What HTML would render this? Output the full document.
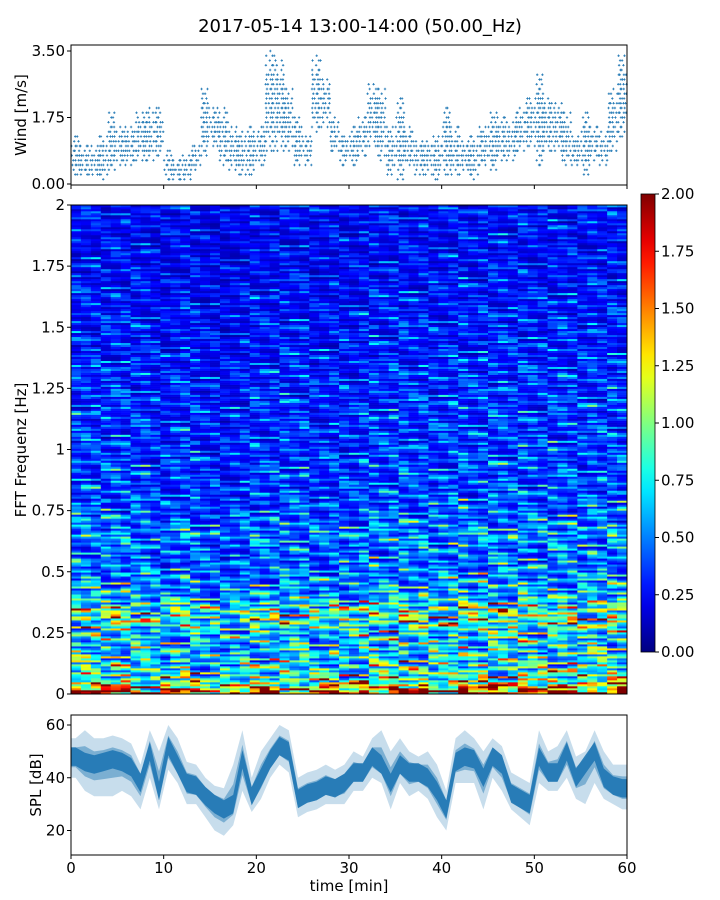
<!DOCTYPE html>
<html><head><meta charset="utf-8"><style>
html,body{margin:0;padding:0;background:#fff;}
svg{display:block;font-family:"DejaVu Sans","Liberation Sans",sans-serif;}
</style></head><body>
<svg id="fig" width="720" height="900" viewBox="0 0 720 900" xmlns="http://www.w3.org/2000/svg">
<rect width="720" height="900" fill="#fff"/>
<text x="360" y="32" text-anchor="middle" font-size="18">2017-05-14 13:00-14:00 (50.00_Hz)</text>
<g id="wind"></g>
<g id="spec"></g>
<g id="cbar"></g>
<g id="spl"></g>
<text x="349" y="891" text-anchor="middle" font-size="15">time [min]</text>
<text transform="translate(26,115) rotate(-90)" text-anchor="middle" font-size="15">Wind [m/s]</text>
<text transform="translate(26,450) rotate(-90)" text-anchor="middle" font-size="15">FFT Frequenz [Hz]</text>
<text transform="translate(41,785) rotate(-90)" text-anchor="middle" font-size="15">SPL [dB]</text>
</svg>
<script>
// ---- data ----
const windLow  = [0.2,0.2,0.2,0.1,0.3,0.5,0.4,0.6,0.6,0.7,0.1,0.1,0.1,0.3,0.7,0.9,0.4,0.3,0.2,0.2,0.4,0.8,0.8,0.8,0.4,0.5,1.3,1.5,0.8,0.5,0.5,0.7,1.0,0.6,0.2,0.1,0.4,0.2,0.2,0.1,0.2,0.2,0.3,0.1,0.4,0.3,0.6,0.6,0.8,0.9,0.4,0.8,0.8,0.4,0.4,0.2,0.6,0.5,0.8,1.2];
const windHigh = [1.3,1.0,1.0,1.3,1.9,1.5,1.6,1.9,2.0,2.0,0.9,0.7,0.8,1.1,2.5,2.1,2.0,1.5,1.4,1.6,1.6,3.5,3.3,2.6,1.8,1.3,3.4,2.8,1.8,1.3,1.5,1.8,2.7,2.5,1.5,2.3,1.5,1.2,1.2,1.3,2.0,1.5,1.2,1.3,1.5,1.9,1.8,1.7,2.0,2.3,2.9,2.3,2.2,1.9,1.3,1.9,1.5,1.4,2.6,3.4];
const splCenter = [48,46,45,46,47,46,44,38,50,35,52,45,38,37,33,30,28,30,47,33,40,47,52,50,32,34,35,37,36,38,42,42,48,45,38,45,42,42,40,35,28,46,48,47,40,48,45,34,32,30,48,42,42,50,40,45,50,40,37,36];
const splLow  = [40,35,33,33,33,35,33,28,40,28,43,38,30,30,25,20,18,22,35,27,32,40,45,42,25,27,28,30,30,30,35,35,40,38,28,38,33,35,32,25,20,38,38,38,28,40,35,28,25,22,38,35,35,40,32,30,38,32,30,28];
const splHigh = [55,58,55,55,56,55,53,45,58,50,60,55,46,45,40,37,36,45,58,40,50,55,60,58,40,42,43,45,43,45,50,48,55,58,50,55,50,48,50,45,35,55,58,55,50,55,52,42,40,38,58,50,52,58,48,50,58,50,45,45];
const freqProfile = [2.0,1.0,0.8,0.72,0.68,0.7,0.95,0.9,0.6,0.55,0.5,0.46,0.46,0.55,0.46,0.42,0.4,0.38,0.38,0.38,0.36,0.35,0.35,0.34,0.34,0.33,0.33,0.32,0.3,0.3,0.3,0.3,0.28,0.28,0.27,0.26,0.26,0.25,0.26,0.27,0.28];
const colFactor = [1.05,1.05,1.0,1.0,1.05,1.0,1.0,1.0,0.9,0.85,0.95,1.0,0.95,0.85,0.85,0.8,0.85,0.9,1.0,0.95,0.95,1.0,1.0,1.0,0.9,0.9,0.95,0.95,0.9,1.0,1.05,1.0,1.05,1.1,1.0,1.05,1.0,1.0,1.05,1.1,1.0,1.05,1.1,1.1,1.05,1.1,1.05,1.0,1.05,1.1,1.05,1.0,1.1,1.05,1.1,1.05];
const rowNoise = [1.0,0.6,1.4,0.8,0.5,1.2,1.7,0.7,0.9,1.3,0.6,1.1,0.4,1.5,0.9,0.7,1.2,1.9,0.8,0.5,1.0,1.3,0.6,1.1,0.9,1.6,0.7,0.5,1.2,1.0,0.8,1.4,0.6,1.1,1.8,0.7,0.9];
const cellNoise = [1.0,0.8,1.2,0.9,1.3,0.7,1.1,1.0,0.6,1.4,0.9,1.2,0.8,1.0,1.5,0.7,1.1,0.9,1.3,0.8,1.0,1.2,0.75];
const windTicks = [0,1.75,3.5], windTickLabels = ["0.00","1.75","3.50"];
const freqTicks = [0,0.25,0.5,0.75,1,1.25,1.5,1.75,2], freqTickLabels = ["0","0.25","0.5","0.75","1","1.25","1.5","1.75","2"];
const cbTicks = [0,0.25,0.5,0.75,1,1.25,1.5,1.75,2], cbTickLabels = ["0.00","0.25","0.50","0.75","1.00","1.25","1.50","1.75","2.00"];
const splTicks = [20,40,60], splTickLabels = ["20","40","60"];
const timeTicks = [0,10,20,30,40,50,60], timeTickLabels = ["0","10","20","30","40","50","60"];

const NS="http://www.w3.org/2000/svg";
function mk(tag,attrs,parent){const e=document.createElementNS(NS,tag);for(const k in attrs)e.setAttribute(k,attrs[k]);parent.appendChild(e);return e;}
const X0=71,X1=627;
const xT=t=>X0+(t/60)*(X1-X0);
const yW=v=>184-(v/3.5)*(184-51);
const yF=f=>694-(f/2)*(694-205);
const yS=d=>725+(60-d)*(830.5-725)/40;
const yC=v=>652-(v/2)*(652-194);
function jet(v){v=Math.max(0,Math.min(1,v));
 const r=Math.max(0,Math.min(1,1.5-Math.abs(4*v-3))),g=Math.max(0,Math.min(1,1.5-Math.abs(4*v-2))),b=Math.max(0,Math.min(1,1.5-Math.abs(4*v-1)));
 return `rgb(${Math.round(r*255)},${Math.round(g*255)},${Math.round(b*255)})`;}

// ---- wind ----
const wg=document.getElementById('wind');
let pts="";
const jit=[0.03,0.11,0.07,0.15,0.01,0.09,0.13,0.05];
for(let m=0;m<60;m++){
 for(let s=0;s<5;s++){
  const lo=windLow[m],hi=windHigh[m];
  let k=0;
  for(let q=Math.ceil(lo/0.125)*0.125;q<=hi+1e-6;q+=0.125){
   k++;
   const mid=(lo+hi)/2, edge=Math.abs(q-mid)/((hi-lo)/2+0.01);
   const h=(m*13+s*7+k*5)%10;
   if(h < (edge>0.6?6:3)) continue;
   const t=m+s/5+jit[(m+s*3+k)%jit.length];
   const x=xT(t),y=yW(q);
   pts+=`M${(x-1.2).toFixed(1)},${y.toFixed(1)}h2.4M${x.toFixed(1)},${(y-1.2).toFixed(1)}v2.4`;
  }
 }
}
const wp=mk('path',{d:pts,stroke:'#1f77b4','stroke-width':0.8,fill:'none'},wg);


const wb=mk('rect',{x:X0,y:45,width:X1-X0,height:140,fill:'none',stroke:'#000','stroke-width':1},wg);


windTicks.forEach((v,i)=>{mk('line',{x1:X0-4,x2:X0,y1:yW(v),y2:yW(v),stroke:'#000'},wg);
 const tx=mk('text',{x:X0-6,y:yW(v)+5,'text-anchor':'end','font-size':15},wg);tx.textContent=windTickLabels[i];
 
 });
timeTicks.forEach(t=>mk('line',{x1:xT(t),x2:xT(t),y1:185,y2:189,stroke:'#000'},wg));

// ---- spectrogram ----
const sg=document.getElementById('spec');
const NR=245,NC=colFactor.length;
const rh=(694-205)/NR,cw=(X1-X0)/NC;
let frag=document.createDocumentFragment();
for(let r=0;r<NR;r++){
 const f=(r+0.5)*2/NR, fi=f/0.05, i0=Math.floor(fi), a=fi-i0;
 const base=freqProfile[i0]*(1-a)+freqProfile[Math.min(i0+1,freqProfile.length-1)]*a;
 for(let c=0;c<NC;c++){
  let v=base*colFactor[c]*rowNoise[(r*5+Math.floor(c/3))%rowNoise.length]*cellNoise[(r*7+c*3)%cellNoise.length];
  const rc=document.createElementNS(NS,'rect');
  rc.setAttribute('x',(X0+c*cw).toFixed(2));rc.setAttribute('y',(694-(r+1)*rh).toFixed(2));
  rc.setAttribute('width',(cw+0.4).toFixed(2));rc.setAttribute('height',(rh+0.3).toFixed(2));
  rc.setAttribute('fill',jet(v/2));
  frag.appendChild(rc);
 }
}
sg.appendChild(frag);
const sb=mk('rect',{x:X0,y:205,width:X1-X0,height:489,fill:'none',stroke:'#000','stroke-width':1},sg);


freqTicks.forEach((v,i)=>{mk('line',{x1:X0-4,x2:X0,y1:yF(v),y2:yF(v),stroke:'#000'},sg);
 const tx=mk('text',{x:X0-6,y:yF(v)+5,'text-anchor':'end','font-size':15},sg);tx.textContent=freqTickLabels[i];
 
 });

// ---- colorbar ----
const cg=document.getElementById('cbar');
const defs=mk('defs',{},cg);
const lg=mk('linearGradient',{id:'jetg',x1:0,y1:1,x2:0,y2:0},defs);
for(let k=0;k<=20;k++)mk('stop',{offset:k/20,'stop-color':jet(k/20)},lg);
const cr=mk('rect',{x:641,y:194,width:14,height:458,fill:'url(#jetg)',stroke:'#000','stroke-width':0.8},cg);


cbTicks.forEach((v,i)=>{mk('line',{x1:655,x2:659,y1:yC(v),y2:yC(v),stroke:'#000'},cg);
 const tx=mk('text',{x:661,y:yC(v)+5,'font-size':15},cg);tx.textContent=cbTickLabels[i];
 
 });

// ---- SPL ----
const pg=document.getElementById('spl');
function band(lo,hi){let top="",bot="";
 const n=lo.length;
 const tx=m=>m<0?0:(m>=n?60:m+0.5);
 for(let m=-1;m<=n;m++){const i=Math.max(0,Math.min(n-1,m));top+=(m<0?"M":"L")+xT(tx(m)).toFixed(1)+","+yS(hi[i]).toFixed(1);}
 for(let m=n;m>=-1;m--){const i=Math.max(0,Math.min(n-1,m));bot+="L"+xT(tx(m)).toFixed(1)+","+yS(lo[i]).toFixed(1);}
 return top+bot+"Z";}
const outer=mk('path',{d:band(splLow,splHigh),fill:'#1f77b4','fill-opacity':0.25,stroke:'none'},pg);


const mid=mk('path',{d:band(splCenter.map((c,i)=>(c+splLow[i])/2),splCenter.map((c,i)=>(c+splHigh[i])/2)),fill:'#1f77b4','fill-opacity':0.45,stroke:'none'},pg);


const core=mk('path',{d:band(splCenter.map(c=>c-3.5),splCenter.map(c=>c+3.5)),fill:'#1f77b4','fill-opacity':0.9,stroke:'none'},pg);


const pb=mk('rect',{x:X0,y:715,width:X1-X0,height:140,fill:'none',stroke:'#000','stroke-width':1},pg);


splTicks.forEach((v,i)=>{mk('line',{x1:X0-4,x2:X0,y1:yS(v),y2:yS(v),stroke:'#000'},pg);
 const tx=mk('text',{x:X0-6,y:yS(v)+5,'text-anchor':'end','font-size':15},pg);tx.textContent=splTickLabels[i];
 
 });
timeTicks.forEach((t,i)=>{mk('line',{x1:xT(t),x2:xT(t),y1:855,y2:859,stroke:'#000'},pg);
 const tx=mk('text',{x:xT(t),y:873,'text-anchor':'middle','font-size':15},pg);tx.textContent=timeTickLabels[i];
 
 });
</script>
</body></html>
